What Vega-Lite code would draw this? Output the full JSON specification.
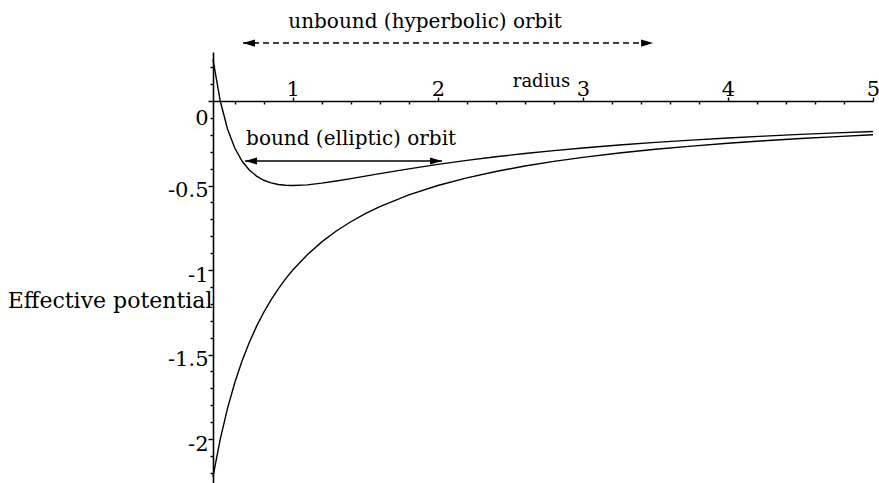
{
  "$schema": "https://vega.github.io/schema/vega-lite/v6.json",
  "width": 660,
  "height": 431,
  "autosize": "none",
  "padding": {"left": 213, "top": 52, "right": 6, "bottom": 0},
  "background": "white",
  "config": {"view": {"stroke": null}},
  "datasets": {
    "curves": [
      {"r": 0.45, "v": 0.2469, "c": "eff"}, {"r": 0.5, "v": 0.0, "c": "eff"}, {"r": 0.55, "v": -0.1653, "c": "eff"},
      {"r": 0.6, "v": -0.2778, "c": "eff"}, {"r": 0.65, "v": -0.355, "c": "eff"}, {"r": 0.7, "v": -0.4082, "c": "eff"},
      {"r": 0.75, "v": -0.4444, "c": "eff"}, {"r": 0.8, "v": -0.4688, "c": "eff"}, {"r": 0.85, "v": -0.4844, "c": "eff"},
      {"r": 0.9, "v": -0.4938, "c": "eff"}, {"r": 0.95, "v": -0.4986, "c": "eff"}, {"r": 1.0, "v": -0.5, "c": "eff"},
      {"r": 1.1, "v": -0.4959, "c": "eff"}, {"r": 1.2, "v": -0.4861, "c": "eff"}, {"r": 1.3, "v": -0.4734, "c": "eff"},
      {"r": 1.4, "v": -0.4592, "c": "eff"}, {"r": 1.5, "v": -0.4444, "c": "eff"}, {"r": 1.6, "v": -0.4297, "c": "eff"},
      {"r": 1.8, "v": -0.4012, "c": "eff"}, {"r": 2.0, "v": -0.375, "c": "eff"}, {"r": 2.2, "v": -0.3512, "c": "eff"},
      {"r": 2.4, "v": -0.3299, "c": "eff"}, {"r": 2.6, "v": -0.3106, "c": "eff"}, {"r": 2.8, "v": -0.2934, "c": "eff"},
      {"r": 3.0, "v": -0.2778, "c": "eff"}, {"r": 3.25, "v": -0.2604, "c": "eff"}, {"r": 3.5, "v": -0.2449, "c": "eff"},
      {"r": 3.75, "v": -0.2311, "c": "eff"}, {"r": 4.0, "v": -0.2188, "c": "eff"}, {"r": 4.25, "v": -0.2076, "c": "eff"},
      {"r": 4.5, "v": -0.1975, "c": "eff"}, {"r": 4.75, "v": -0.1884, "c": "eff"}, {"r": 5.0, "v": -0.18, "c": "eff"},
      {"r": 0.45, "v": -2.2222, "c": "grav"}, {"r": 0.5, "v": -2.0, "c": "grav"}, {"r": 0.55, "v": -1.8182, "c": "grav"},
      {"r": 0.6, "v": -1.6667, "c": "grav"}, {"r": 0.65, "v": -1.5385, "c": "grav"}, {"r": 0.7, "v": -1.4286, "c": "grav"},
      {"r": 0.75, "v": -1.3333, "c": "grav"}, {"r": 0.8, "v": -1.25, "c": "grav"}, {"r": 0.85, "v": -1.1765, "c": "grav"},
      {"r": 0.9, "v": -1.1111, "c": "grav"}, {"r": 0.95, "v": -1.0526, "c": "grav"}, {"r": 1.0, "v": -1.0, "c": "grav"},
      {"r": 1.1, "v": -0.9091, "c": "grav"}, {"r": 1.2, "v": -0.8333, "c": "grav"}, {"r": 1.3, "v": -0.7692, "c": "grav"},
      {"r": 1.4, "v": -0.7143, "c": "grav"}, {"r": 1.5, "v": -0.6667, "c": "grav"}, {"r": 1.6, "v": -0.625, "c": "grav"},
      {"r": 1.8, "v": -0.5556, "c": "grav"}, {"r": 2.0, "v": -0.5, "c": "grav"}, {"r": 2.2, "v": -0.4545, "c": "grav"},
      {"r": 2.4, "v": -0.4167, "c": "grav"}, {"r": 2.6, "v": -0.3846, "c": "grav"}, {"r": 2.8, "v": -0.3571, "c": "grav"},
      {"r": 3.0, "v": -0.3333, "c": "grav"}, {"r": 3.25, "v": -0.3077, "c": "grav"}, {"r": 3.5, "v": -0.2857, "c": "grav"},
      {"r": 3.75, "v": -0.2667, "c": "grav"}, {"r": 4.0, "v": -0.25, "c": "grav"}, {"r": 4.25, "v": -0.2353, "c": "grav"},
      {"r": 4.5, "v": -0.2222, "c": "grav"}, {"r": 4.75, "v": -0.2105, "c": "grav"}, {"r": 5.0, "v": -0.2, "c": "grav"}
    ],
    "arrows": [
      {"r": 0.657, "r2": 3.484, "v": 0.343, "kind": "unbound"},
      {"r": 0.671, "r2": 2.029, "v": -0.355, "kind": "bound"}
    ],
    "heads": [
      {"r": 0.657, "v": 0.343, "dir": "left"},
      {"r": 3.484, "v": 0.343, "dir": "right"},
      {"r": 0.671, "v": -0.355, "dir": "left"},
      {"r": 2.029, "v": -0.355, "dir": "right"}
    ],
    "labels": [
      {"r": 1.912, "v": 0.432, "label": "unbound (hyperbolic) orbit"},
      {"r": 1.402, "v": -0.26, "label": "bound (elliptic) orbit"}
    ]
  },
  "layer": [
    {
      "data": {"name": "curves"},
      "mark": {"type": "line", "color": "black", "strokeWidth": 1.4, "clip": false},
      "encoding": {
        "x": {
          "field": "r", "type": "quantitative",
          "scale": {"domain": [0.45, 5], "nice": false, "zero": false},
          "axis": {
            "orient": "top", "offset": -49, "tickCount": 200,
            "values": [0.6, 0.8, 1, 1.2, 1.4, 1.6, 1.8, 2, 2.2, 2.4, 2.6, 2.8, 3, 3.2, 3.4, 3.6, 3.8, 4, 4.2, 4.4, 4.6, 4.8, 5],
            "labelExpr": "datum.value % 1 === 0 ? toString(datum.value) : ''",
            "tickSize": {"condition": {"test": "datum.value % 1 === 0", "value": 4}, "value": -3},
            "labelPadding": -2,
            "labelOverlap": false, "labelFlush": false, "labelBound": false,
            "domainColor": "black", "domainWidth": 1.6,
            "tickColor": "black", "tickWidth": 1.4,
            "labelFont": "DejaVu Serif", "labelFontSize": 21, "labelColor": "black",
            "grid": false,
            "title": "radius", "titleX": 328, "titleY": -15,
            "titleAlign": "center", "titleBaseline": "alphabetic",
            "titleFont": "DejaVu Serif", "titleFontSize": 18, "titleFontWeight": "normal", "titleColor": "black"
          }
        },
        "y": {
          "field": "v", "type": "quantitative",
          "scale": {"domain": [-2.26, 0.29], "nice": false, "zero": false},
          "axis": {
            "orient": "left", "tickCount": 200,
            "values": [0.2, 0.1, 0, -0.1, -0.2, -0.3, -0.4, -0.5, -0.6, -0.7, -0.8, -0.9, -1, -1.1, -1.2, -1.3, -1.4, -1.5, -1.6, -1.7, -1.8, -1.9, -2, -2.1, -2.2],
            "labelExpr": "indexof([0, -0.5, -1, -1.5, -2], datum.value) >= 0 ? toString(datum.value) : ''",
            "tickSize": {"condition": {"test": "indexof([0, -0.5, -1, -1.5, -2], datum.value) >= 0", "value": 5}, "value": 3},
            "labelPadding": 0,
            "labelOffset": {"condition": {"test": "datum.value === 0", "value": 17}, "value": 5},
            "labelOverlap": false, "labelFlush": false, "labelBound": false,
            "domainColor": "black", "domainWidth": 1.6,
            "tickColor": "black", "tickWidth": 1.4,
            "labelFont": "DejaVu Serif", "labelFontSize": 21, "labelColor": "black",
            "grid": false,
            "title": "Effective potential", "titleAngle": 0, "titleX": -1, "titleY": 255,
            "titleAlign": "right", "titleBaseline": "alphabetic",
            "titleFont": "DejaVu Serif", "titleFontSize": 22, "titleFontWeight": "normal", "titleColor": "black"
          }
        },
        "detail": {"field": "c"}
      }
    },
    {
      "data": {"name": "arrows"},
      "mark": {"type": "rule", "color": "black", "strokeWidth": 1.4, "clip": false},
      "encoding": {
        "x": {"field": "r", "type": "quantitative"},
        "x2": {"field": "r2"},
        "y": {"field": "v", "type": "quantitative"},
        "strokeDash": {"field": "kind", "type": "nominal", "scale": {"domain": ["unbound", "bound"], "range": [[6, 4], [1, 0]]}, "legend": null}
      }
    },
    {
      "data": {"name": "heads"},
      "mark": {"type": "point", "filled": true, "color": "black", "opacity": 1, "size": 64, "clip": false},
      "encoding": {
        "x": {"field": "r", "type": "quantitative"},
        "y": {"field": "v", "type": "quantitative"},
        "shape": {"field": "dir", "type": "nominal", "scale": {"domain": ["left", "right"], "range": ["M0,0L3,-0.9L3,0.9Z", "M0,0L-3,-0.9L-3,0.9Z"]}, "legend": null}
      }
    },
    {
      "data": {"name": "labels"},
      "mark": {"type": "text", "font": "DejaVu Serif", "fontSize": 20, "color": "black", "align": "center", "baseline": "alphabetic", "clip": false},
      "encoding": {
        "x": {"field": "r", "type": "quantitative"},
        "y": {"field": "v", "type": "quantitative"},
        "text": {"field": "label"}
      }
    }
  ]
}
